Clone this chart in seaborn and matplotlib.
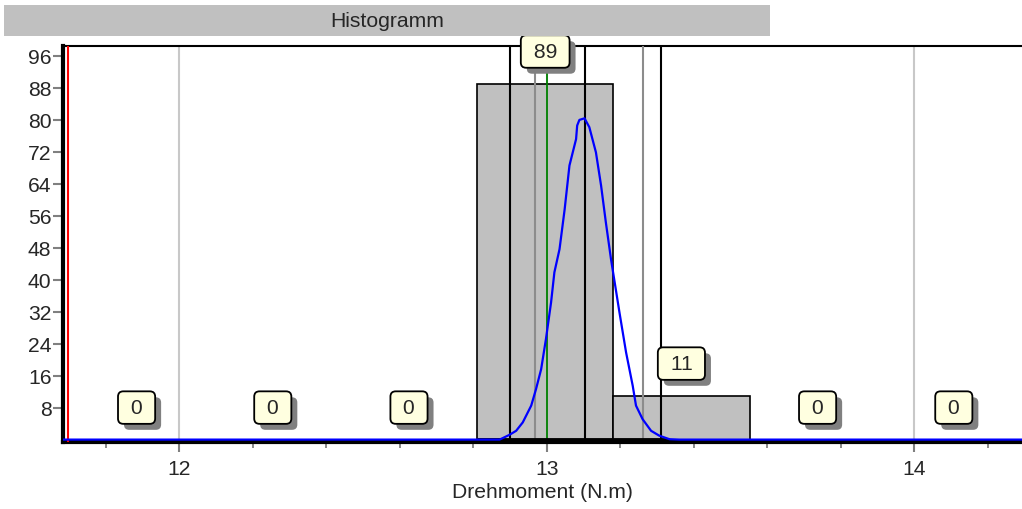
import matplotlib
matplotlib.use("Agg")
import matplotlib.pyplot as plt
import matplotlib.patheffects as pe
from matplotlib.patches import Rectangle
from matplotlib.ticker import MultipleLocator
import seaborn as sns

# histogram classes
bin_edges = [11.699, 12.070, 12.440, 12.811, 13.181, 13.552, 13.922, 14.293]
bin_counts = [0, 0, 0, 89, 11, 0, 0]

# fitted density curve
curve_x = [11.683, 12.872, 12.899, 12.917, 12.935, 12.958, 12.971, 12.985, 12.998,
           13.012, 13.021, 13.035, 13.049, 13.062, 13.080, 13.083, 13.089, 13.103,
           13.116, 13.134, 13.148, 13.161, 13.175, 13.198, 13.216, 13.234, 13.243,
           13.261, 13.284, 13.306, 13.334, 13.361, 14.293]
curve_y = [0, 0, 1.2, 2.2, 4.3, 8.5, 12.6, 17.6, 25.1,
           34.3, 41.8, 47.6, 57.6, 68.5, 75.1, 78.5, 79.9, 80.3,
           78.1, 71.8, 63.5, 54.3, 45.1, 31.8, 21.8, 13.5, 8.5,
           5.1, 2.2, 1.0, 0.1, 0, 0]

# reference lines
lower_limit = 11.697
nominal = 13.0
sigma_lines = [12.899, 13.103, 13.311]
limit_lines = [12.968, 13.262]
data_range = [12.811, 13.334]

sns.set_style("white")
plt.rcParams["font.family"] = ["Liberation Sans", "DejaVu Sans"]
fs = 15.2

W, H = 1022, 510
fig = plt.figure(figsize=(W / 100, H / 100), dpi=100)
ax = fig.add_axes([62.5 / W, (H - 443) / H, (W - 62.5) / W, (443 - 47.3) / H])

centers = [(a + b) / 2 for a, b in zip(bin_edges[:-1], bin_edges[1:])]
sns.histplot(x=centers, weights=bin_counts, bins=bin_edges, color="#c0c0c0",
             edgecolor="black", linewidth=1.2, alpha=1, ax=ax, zorder=2)

ax.set_xticks([12, 13, 14])
ax.xaxis.set_minor_locator(MultipleLocator(0.2))
ax.xaxis.grid(True, which="major", color="#c8c8c8", lw=1.5)
ax.set_axisbelow(True)

for x in sigma_lines:
    ax.axvline(x, color="black", lw=1.5, zorder=3)
for x in limit_lines:
    ax.axvline(x, color="#8c8c8c", lw=1.5, zorder=3)
ax.axvline(nominal, color="green", lw=1.3, zorder=3)
ax.axvline(lower_limit, color="red", lw=1.5, zorder=3)

ax.plot(data_range, [0, 0], color="black", lw=3.5, solid_capstyle="butt",
        zorder=3, clip_on=False)
sns.lineplot(x=curve_x, y=curve_y, color="blue", lw=1.6, sort=False, ax=ax, zorder=4)

for c, n in zip(centers, bin_counts):
    t = ax.text(c, n + 8, f" {n} ", ha="center", va="center", fontsize=fs, zorder=6,
                bbox=dict(boxstyle="round,pad=0.32,rounding_size=0.25",
                          fc="#ffffe0", ec="black", lw=1.3))
    t.get_bbox_patch().set_path_effects(
        [pe.withSimplePatchShadow(offset=(4.3, -4.3), shadow_rgbFace="#808080", alpha=1)])

ax.set_xlim(11.683, 14.293)
ax.set_ylim(-0.6, 98.3)
ax.set_yticks(range(8, 97, 8))

for s in ["left", "bottom"]:
    ax.spines[s].set_linewidth(3)
    ax.spines[s].set_color("black")
ax.spines["top"].set_linewidth(1.5)
ax.spines["top"].set_color("black")
ax.spines["right"].set_visible(False)

ax.tick_params(axis="y", left=True, direction="out", length=7, width=1.5,
               color="#808080", labelsize=fs, pad=1)
ax.tick_params(axis="x", which="major", bottom=True, direction="out", length=7,
               width=1.5, color="#808080", labelsize=fs, pad=5)
ax.tick_params(axis="x", which="minor", bottom=True, direction="out", length=4,
               width=1.3, color="#808080")

ax.set_ylabel("")
ax.set_xlabel("Drehmoment (N.m)", fontsize=fs, labelpad=3)

fig.patches.append(Rectangle((4 / W, 1 - 36.7 / H), 766 / W, 30.7 / H,
                             transform=fig.transFigure, fc="#c0c0c0", ec="none"))
fig.text(387 / W, 1 - 21.3 / H, "Histogramm", ha="center", va="center", fontsize=fs)

fig.savefig("out.png", dpi=100)
